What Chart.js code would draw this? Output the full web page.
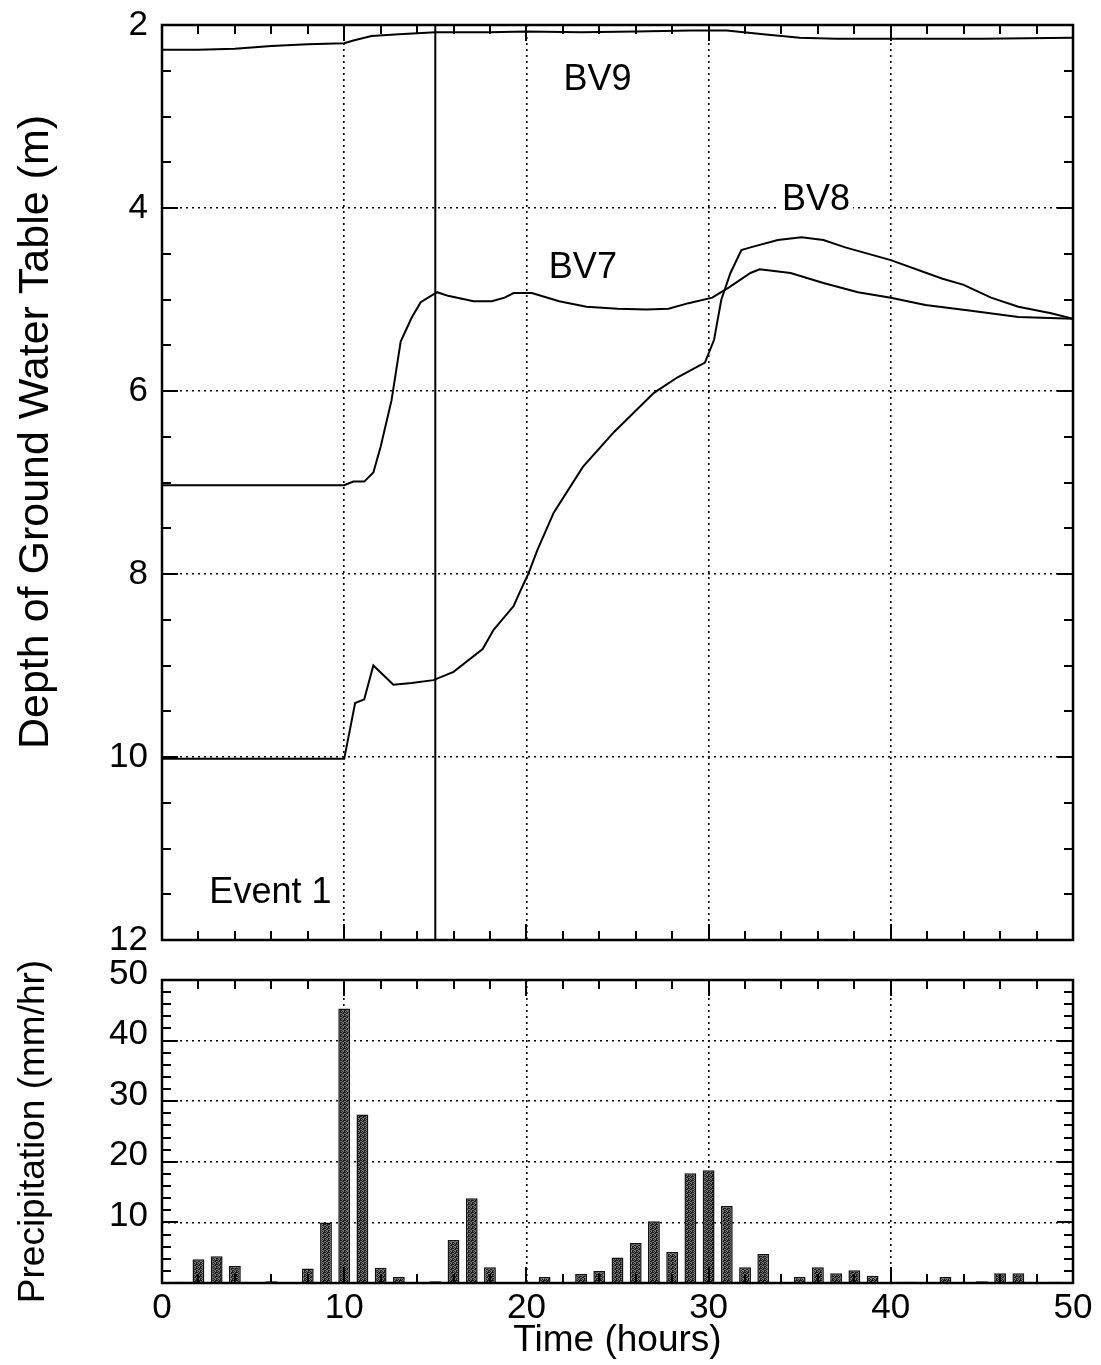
<!DOCTYPE html>
<html>
<head>
<meta charset="utf-8">
<title>Event 1</title>
<script src="https://cdn.jsdelivr.net/npm/chart.js@4.4.1/dist/chart.umd.min.js"></script>
<style>
    body { margin: 0; background: #fff; }
    canvas { position: absolute; left: 0; }
    #graficoNivel { top: 0; }
    #graficoLluvia { top: 955px; }
</style>
</head>
<body>
<canvas id="graficoNivel" width="1101" height="960"></canvas>
<canvas id="graficoLluvia" width="1101" height="410"></canvas>
<script>
// Profundidad del nivel freatico (m) por hora
const horasBV9 = [0, 2, 4, 6, 8, 10, 10.5, 11.5, 13, 15, 18, 20, 23, 26, 29, 31, 33, 35, 37, 40, 45, 50];
const profBV9 = [2.27, 2.27, 2.26, 2.23, 2.21, 2.2, 2.17, 2.12, 2.1, 2.08, 2.08, 2.07, 2.08, 2.07, 2.06, 2.06, 2.1, 2.14, 2.15, 2.15, 2.15, 2.14];

const horasBV7 = [0, 5, 10, 10.5, 11.1, 11.6, 12.0, 12.6, 13.1, 13.7, 14.2, 15.1, 15.7, 17.1, 18.1, 18.8, 19.3, 20.3, 21.8, 23.3, 25, 26.6, 27.8, 28.9, 30.2, 31.1, 32.3, 32.8, 34.5, 36.3, 38.2, 40, 41.9, 44.3, 47, 50];
const profBV7 = [7.03, 7.03, 7.03, 6.99, 6.99, 6.89, 6.61, 6.10, 5.46, 5.20, 5.03, 4.92, 4.96, 5.02, 5.02, 4.98, 4.93, 4.93, 5.02, 5.08, 5.10, 5.11, 5.10, 5.04, 4.98, 4.87, 4.71, 4.67, 4.71, 4.82, 4.92, 4.98, 5.06, 5.12, 5.19, 5.21];

const horasBV8 = [0, 5, 10, 10.6, 11.1, 11.6, 12.7, 13.7, 14.9, 16.0, 17.6, 18.2, 19.3, 19.7, 20.1, 20.6, 21.5, 23.1, 24.8, 27.0, 28.3, 29.8, 30.3, 30.7, 31.2, 31.8, 32.3, 33.8, 35.1, 36.3, 37.5, 40, 42.8, 44, 45.5, 47, 48.8, 50];
const profBV8 = [10.02, 10.02, 10.02, 9.41, 9.37, 9.0, 9.21, 9.19, 9.16, 9.07, 8.82, 8.61, 8.35, 8.17, 8.0, 7.74, 7.33, 6.83, 6.45, 6.02, 5.85, 5.69, 5.44, 5.0, 4.71, 4.46, 4.43, 4.35, 4.32, 4.35, 4.43, 4.57, 4.77, 4.84, 4.98, 5.08, 5.15, 5.21];

const horaMarca = 15;

// Precipitacion (mm/hr) por hora
const horasLluvia = [0, 1, 2, 3, 4, 5, 6, 7, 8, 9, 10, 11, 12, 13, 14, 15, 16, 17, 18, 19, 20, 21, 22, 23, 24, 25, 26, 27, 28, 29, 30, 31, 32, 33, 34, 35, 36, 37, 38, 39, 40, 41, 42, 43, 44, 45, 46, 47, 48, 49];
const lluvia = [0, 0.2, 3.9, 4.4, 2.8, 0, 0.3, 0, 2.4, 10.0, 45.3, 27.8, 2.5, 1.0, 0, 0.3, 7.1, 14.0, 2.6, 0, 0, 1.0, 0, 1.5, 2.0, 4.2, 6.6, 10.2, 5.1, 18.1, 18.6, 12.7, 2.6, 4.8, 0, 1.0, 2.6, 1.6, 2.1, 1.2, 0, 0.2, 0, 1.0, 0, 0.3, 1.6, 1.6, 0, 0.2];

// Marcas de los ejes
const ticksHoras = [0, 10, 20, 30, 40, 50];
const ticksNivel = [2, 4, 6, 8, 10, 12];
const ticksLluvia = [10, 20, 30, 40, 50];

const etiquetas = [
    { texto: "BV9", x: 23.9, y: 2.6 },
    { texto: "BV8", x: 35.9, y: 3.91 },
    { texto: "BV7", x: 23.1, y: 4.66 },
    { texto: "Event 1", x: 5.95, y: 11.49 },
];

const fuente = "'Liberation Sans', Arial, Helvetica, sans-serif";

function puntos(horas, valores) {
    return horas.map((h, i) => ({ x: h, y: valores[i] }));
}

function fijarTicks(lista) {
    return function (escala) {
        escala.ticks = lista.map((v) => ({ value: v }));
    };
}

// sin relleno extra por las etiquetas, el area queda fija
function sinRelleno(escala) {
    escala.paddingTop = 0;
    escala.paddingBottom = 0;
    escala.paddingLeft = 0;
    escala.paddingRight = 0;
}

// Marco y marcas hacia adentro en los cuatro lados
const marco = {
    id: "marco",
    afterDatasetsDraw(chart, args, opts) {
        const { ctx, chartArea: a, scales } = chart;
        ctx.save();
        ctx.strokeStyle = "#000";
        ctx.lineWidth = 2;
        function marcas(escala, paso, largo, horizontal) {
            for (let v = escala.min; v <= escala.max + 1e-6; v += paso) {
                const p = Math.round(escala.getPixelForValue(v));
                ctx.beginPath();
                if (horizontal) {
                    ctx.moveTo(p, a.top);
                    ctx.lineTo(p, a.top + largo);
                    ctx.moveTo(p, a.bottom);
                    ctx.lineTo(p, a.bottom - largo);
                } else {
                    ctx.moveTo(a.left, p);
                    ctx.lineTo(a.left + largo, p);
                    ctx.moveTo(a.right, p);
                    ctx.lineTo(a.right - largo, p);
                }
                ctx.stroke();
            }
        }
        marcas(scales.x, opts.menorX, 9, true);
        marcas(scales.x, opts.mayorX, 16, true);
        marcas(scales.y, opts.menorY, 9, false);
        marcas(scales.y, opts.mayorY, 16, false);
        ctx.lineWidth = 2.5;
        ctx.strokeRect(a.left, a.top, a.right - a.left, a.bottom - a.top);
        ctx.restore();
    },
};

const textos = {
    id: "textos",
    afterDatasetsDraw(chart) {
        const { ctx, scales } = chart;
        ctx.save();
        ctx.font = "36px " + fuente;
        ctx.textAlign = "center";
        ctx.textBaseline = "middle";
        etiquetas.forEach((e) => {
            const px = scales.x.getPixelForValue(e.x);
            const py = scales.y.getPixelForValue(e.y);
            const ancho = ctx.measureText(e.texto).width;
            ctx.fillStyle = "#fff";
            ctx.fillRect(px - ancho / 2 - 3, py - 14, ancho + 6, 28);
            ctx.fillStyle = "#000";
            ctx.fillText(e.texto, px, py);
        });
        ctx.restore();
    },
};

// Titulo del eje de profundidad (mas grande y algo por encima del centro)
const tituloNivel = {
    id: "tituloNivel",
    afterDraw(chart) {
        const ctx = chart.ctx;
        ctx.save();
        ctx.translate(36, 432);
        ctx.rotate(-Math.PI / 2);
        ctx.font = "43px " + fuente;
        ctx.fillStyle = "#000";
        ctx.textAlign = "center";
        ctx.textBaseline = "middle";
        ctx.fillText("Depth of Ground Water Table (m)", 0, 0);
        ctx.restore();
    },
};

function tramaGris(ctx) {
    const c = document.createElement("canvas");
    c.width = 4;
    c.height = 4;
    const g = c.getContext("2d");
    g.fillStyle = "#7a7a7a";
    g.fillRect(0, 0, 4, 4);
    g.fillStyle = "#1a1a1a";
    [[0, 0], [2, 0], [1, 1], [3, 1], [3, 2], [0, 3], [2, 2], [1, 3], [0, 1]].forEach(([x, y]) => g.fillRect(x, y, 1, 1));
    return ctx.createPattern(c, "repeat");
}

function serie(horas, valores) {
    return {
        data: puntos(horas, valores),
        borderColor: "#000",
        borderWidth: 2,
        pointRadius: 0,
        tension: 0,
    };
}

const rejilla = {
    color: "#000",
    lineWidth: 1.6,
    drawTicks: false,
};

document.addEventListener("DOMContentLoaded", function () {
    const ctxNivel = document.getElementById("graficoNivel").getContext("2d");
    new Chart(ctxNivel, {
        type: "line",
        data: {
            datasets: [
                serie(horasBV9, profBV9),
                serie(horasBV7, profBV7),
                serie(horasBV8, profBV8),
                {
                    data: [{ x: horaMarca, y: 2 }, { x: horaMarca, y: 12 }],
                    borderColor: "#000",
                    borderWidth: 2,
                    pointRadius: 0,
                },
            ],
        },
        options: {
            responsive: false,
            animation: false,
            devicePixelRatio: 1,
            layout: { padding: { top: 25, right: 28, left: 0, bottom: 0 } },
            plugins: {
                legend: { display: false },
                tooltip: { enabled: false },
                marco: { menorX: 2, mayorX: 10, menorY: 0.5, mayorY: 2 },
            },
            scales: {
                x: {
                    type: "linear",
                    min: 0,
                    max: 50,
                    afterBuildTicks: fijarTicks(ticksHoras),
                    ticks: { display: false },
                    grid: rejilla,
                    border: { display: false, dash: [2, 4] },
                    afterFit(s) {
                        sinRelleno(s);
                        s.height = 20;
                    },
                },
                y: {
                    type: "linear",
                    reverse: true,
                    min: 2,
                    max: 12,
                    afterBuildTicks: fijarTicks(ticksNivel),
                    ticks: { color: "#000", font: { family: fuente, size: 35 }, padding: 14 },
                    grid: rejilla,
                    border: { display: false, dash: [2, 4] },
                    afterFit(s) {
                        sinRelleno(s);
                        s.width = 162;
                    },
                },
            },
        },
        plugins: [marco, textos, tituloNivel],
    });

    const ctxLluvia = document.getElementById("graficoLluvia").getContext("2d");
    new Chart(ctxLluvia, {
        type: "bar",
        data: {
            datasets: [
                {
                    data: puntos(horasLluvia, lluvia),
                    backgroundColor: tramaGris(ctxLluvia),
                    borderColor: "#111",
                    borderWidth: 1.5,
                    borderSkipped: "bottom",
                    barPercentage: 0.65,
                    categoryPercentage: 1,
                },
            ],
        },
        options: {
            responsive: false,
            animation: false,
            devicePixelRatio: 1,
            layout: { padding: { top: 25, right: 28, left: 0, bottom: 0 } },
            plugins: {
                legend: { display: false },
                tooltip: { enabled: false },
                marco: { menorX: 2, mayorX: 10, menorY: 2, mayorY: 10 },
            },
            scales: {
                x: {
                    type: "linear",
                    min: 0,
                    max: 50,
                    offset: false,
                    afterBuildTicks: fijarTicks(ticksHoras),
                    ticks: { color: "#000", font: { family: fuente, size: 35 }, padding: 4 },
                    grid: { ...rejilla, offset: false },
                    border: { display: false, dash: [2, 4] },
                    title: {
                        display: true,
                        text: "Time (hours)",
                        color: "#000",
                        font: { family: fuente, size: 37 },
                        padding: { top: 0, bottom: 2 },
                    },
                    afterFit(s) {
                        sinRelleno(s);
                        s.height = 82;
                    },
                },
                y: {
                    type: "linear",
                    min: 0,
                    max: 50,
                    afterBuildTicks: fijarTicks(ticksLluvia),
                    ticks: { color: "#000", font: { family: fuente, size: 35 }, padding: 14, labelOffset: -6 },
                    grid: rejilla,
                    border: { display: false, dash: [2, 4] },
                    title: {
                        display: true,
                        text: "Precipitation (mm/hr)",
                        color: "#000",
                        font: { family: fuente, size: 37 },
                        padding: { top: 12, bottom: 0 },
                    },
                    afterFit(s) {
                        sinRelleno(s);
                        s.width = 162;
                    },
                },
            },
        },
        plugins: [marco],
    });
});
</script>
</body>
</html>
